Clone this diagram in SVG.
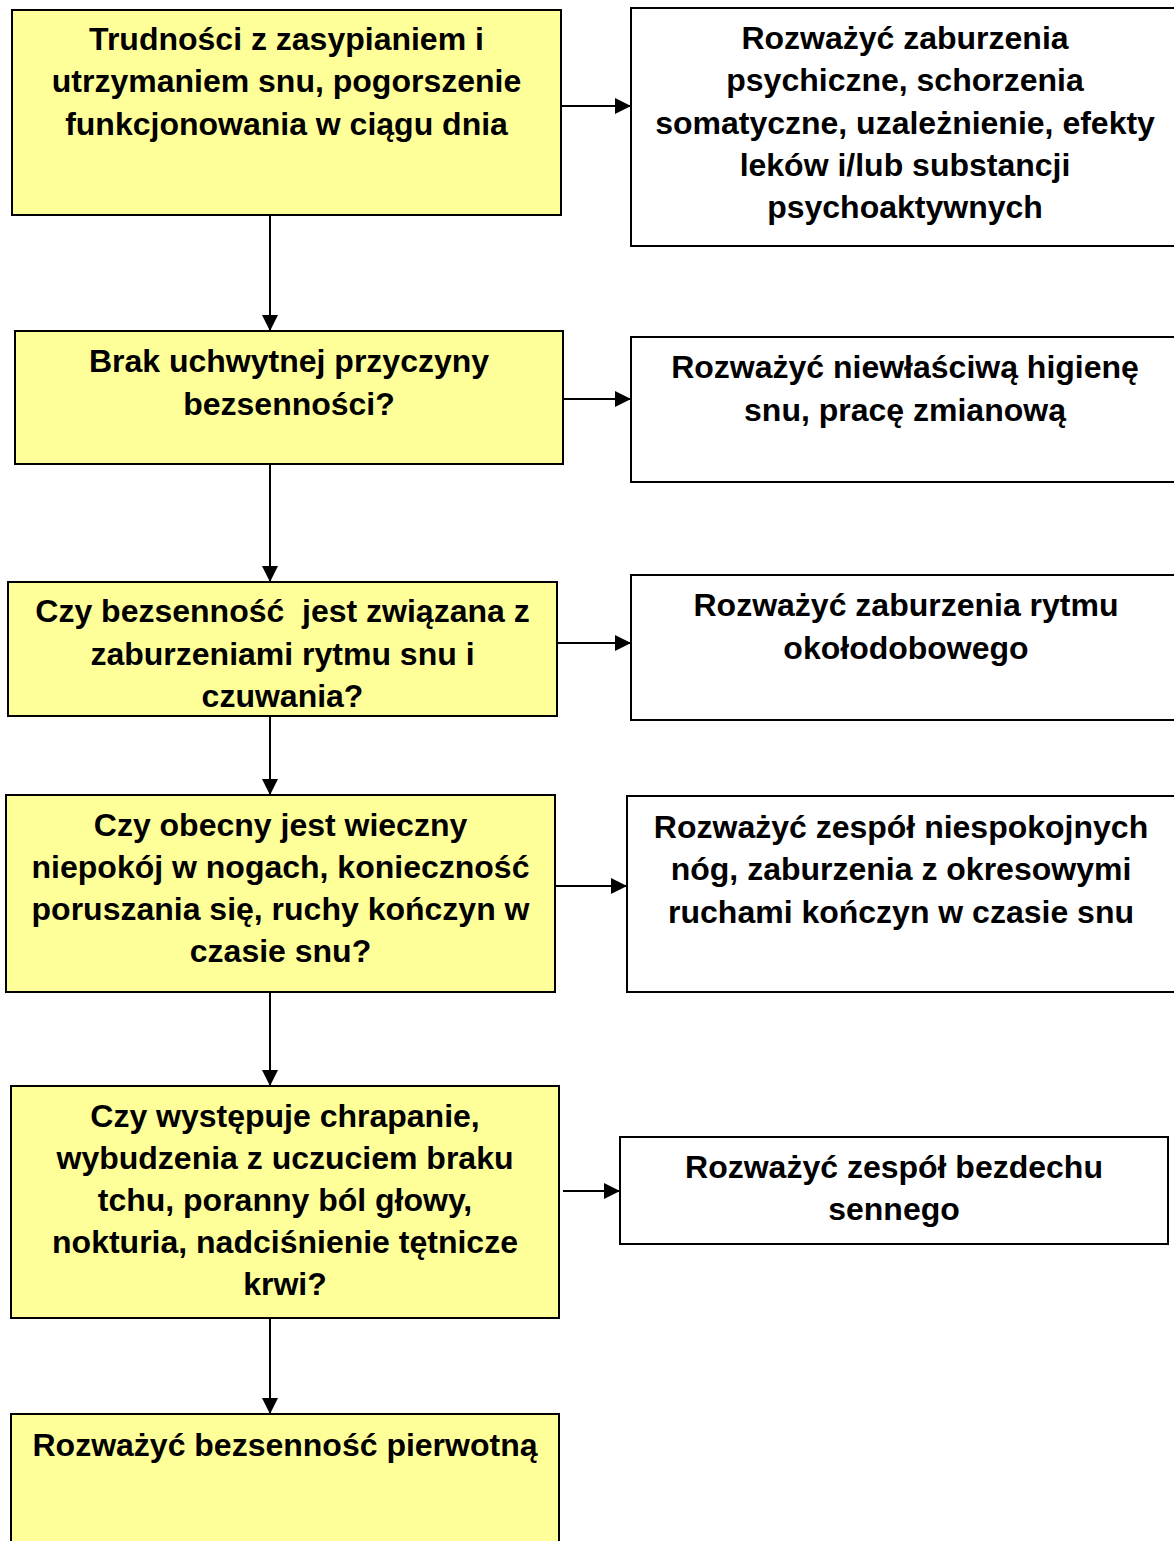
<svg xmlns="http://www.w3.org/2000/svg" width="1174" height="1541" viewBox="0 0 1174 1541">
  <style>
    .q { fill: #FFFF99; stroke: #000; stroke-width: 2; }
    .a { fill: #FFFFFF; stroke: #000; stroke-width: 2; }
    text { font-family: "Liberation Sans", Arial, sans-serif; font-weight: bold; font-size: 32px; fill: #000; text-anchor: middle; }
    .conn { stroke: #000; stroke-width: 2; fill: none; }
  </style>
  <defs>
    <marker id="arrow" viewBox="0 0 10 10" refX="10" refY="5" markerWidth="16" markerHeight="16" markerUnits="userSpaceOnUse" orient="auto">
      <path d="M0,0 L10,5 L0,10 Z" fill="#000"/>
    </marker>
    <clipPath id="clip3"><rect x="8" y="582" width="549" height="125"/></clipPath>
  </defs>
  <rect width="1174" height="1541" fill="#FFFFFF"/>

  <g id="connectors">
    <line class="conn" x1="270" y1="215" x2="270" y2="331" marker-end="url(#arrow)"/>
    <line class="conn" x1="270" y1="464" x2="270" y2="582" marker-end="url(#arrow)"/>
    <line class="conn" x1="270" y1="716" x2="270" y2="795" marker-end="url(#arrow)"/>
    <line class="conn" x1="270" y1="992" x2="270" y2="1086" marker-end="url(#arrow)"/>
    <line class="conn" x1="270" y1="1318" x2="270" y2="1414" marker-end="url(#arrow)"/>
    <line class="conn" x1="561" y1="106" x2="631" y2="106" marker-end="url(#arrow)"/>
    <line class="conn" x1="563" y1="399" x2="631" y2="399" marker-end="url(#arrow)"/>
    <line class="conn" x1="557" y1="643" x2="631" y2="643" marker-end="url(#arrow)"/>
    <line class="conn" x1="555" y1="886" x2="627" y2="886" marker-end="url(#arrow)"/>
    <line class="conn" x1="563" y1="1191" x2="620" y2="1191" marker-end="url(#arrow)"/>
  </g>

  <g id="q1">
    <rect class="q" x="12" y="10" width="549" height="205"/>
    <text x="286.5" y="50">Trudności z zasypianiem i</text>
    <text x="286.5" y="92">utrzymaniem snu, pogorszenie</text>
    <text x="286.5" y="135">funkcjonowania w ciągu dnia</text>
  </g>
  <g id="a1">
    <rect class="a" x="631" y="8" width="560" height="238"/>
    <text x="905" y="49">Rozważyć zaburzenia</text>
    <text x="905" y="91">psychiczne, schorzenia</text>
    <text x="905" y="134">somatyczne, uzależnienie, efekty</text>
    <text x="905" y="176">leków i/lub substancji</text>
    <text x="905" y="218">psychoaktywnych</text>
  </g>

  <g id="q2">
    <rect class="q" x="15" y="331" width="548" height="133"/>
    <text x="289" y="372">Brak uchwytnej przyczyny</text>
    <text x="289" y="415">bezsenności?</text>
  </g>
  <g id="a2">
    <rect class="a" x="631" y="337" width="560" height="145"/>
    <text x="905" y="378">Rozważyć niewłaściwą higienę</text>
    <text x="905" y="421">snu, pracę zmianową</text>
  </g>

  <g id="q3">
    <rect class="q" x="8" y="582" width="549" height="134"/>
    <g clip-path="url(#clip3)">
      <text x="282.5" y="622" xml:space="preserve">Czy bezsenność  jest związana z</text>
      <text x="282.5" y="665">zaburzeniami rytmu snu i</text>
      <text x="282.5" y="707">czuwania?</text>
    </g>
  </g>
  <g id="a3">
    <rect class="a" x="631" y="575" width="560" height="145"/>
    <text x="906" y="616">Rozważyć zaburzenia rytmu</text>
    <text x="906" y="659">okołodobowego</text>
  </g>

  <g id="q4">
    <rect class="q" x="6" y="795" width="549" height="197"/>
    <text x="280.5" y="836">Czy obecny jest wieczny</text>
    <text x="280.5" y="878">niepokój w nogach, konieczność</text>
    <text x="280.5" y="920">poruszania się, ruchy kończyn w</text>
    <text x="280.5" y="962">czasie snu?</text>
  </g>
  <g id="a4">
    <rect class="a" x="627" y="796" width="560" height="196"/>
    <text x="901" y="838">Rozważyć zespół niespokojnych</text>
    <text x="901" y="880">nóg, zaburzenia z okresowymi</text>
    <text x="901" y="923">ruchami kończyn w czasie snu</text>
  </g>

  <g id="q5">
    <rect class="q" x="11" y="1086" width="548" height="232"/>
    <text x="285" y="1127">Czy występuje chrapanie,</text>
    <text x="285" y="1169">wybudzenia z uczuciem braku</text>
    <text x="285" y="1211">tchu, poranny ból głowy,</text>
    <text x="285" y="1253">nokturia, nadciśnienie tętnicze</text>
    <text x="285" y="1295">krwi?</text>
  </g>
  <g id="a5">
    <rect class="a" x="620" y="1137" width="548" height="107"/>
    <text x="894" y="1178">Rozważyć zespół bezdechu</text>
    <text x="894" y="1220">sennego</text>
  </g>

  <g id="q6">
    <rect class="q" x="11" y="1414" width="548" height="160"/>
    <text x="285" y="1456">Rozważyć bezsenność pierwotną</text>
  </g>
</svg>
